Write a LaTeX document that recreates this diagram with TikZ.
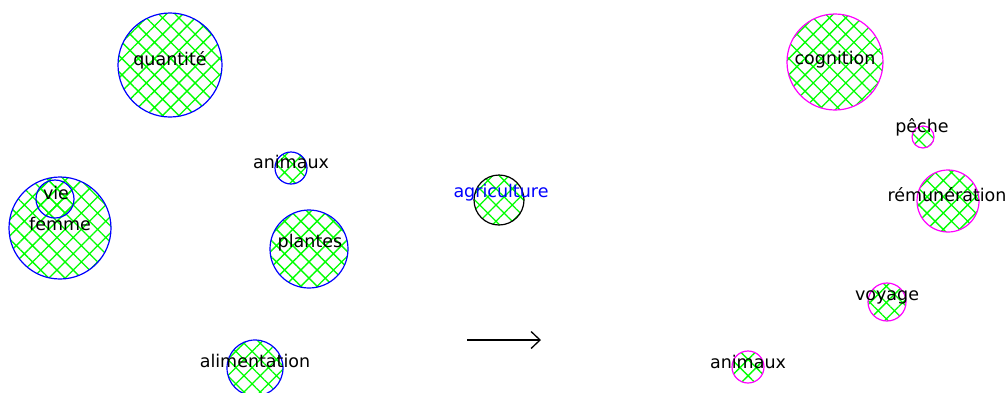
\documentclass[tikz,border=0pt]{standalone}
\usepackage{fontspec}
\setmainfont{DejaVu Sans}
\usetikzlibrary{patterns.meta,arrows.meta}
\definecolor{hgreen}{RGB}{0,255,0}
\definecolor{bblue}{RGB}{0,0,255}
\definecolor{mmag}{RGB}{255,0,255}
\tikzset{
  blob/.style={circle,inner sep=0pt,minimum size=#1,line width=1.2pt,
    pattern={Hatch[angle=45,distance=11.5pt,line width=1.3pt]},pattern color=hgreen},
  lblob/.style={blob=#1,draw=bblue},
  rblob/.style={blob=#1,draw=mmag},
  kblob/.style={blob=#1,draw=black},
  word/.style={inner sep=0pt,font=\fontsize{17.5}{19}\selectfont,text=black},
  bword/.style={word,text=bblue}
}
\begin{document}
\begin{tikzpicture}[x=1pt,y=-1pt]
\useasboundingbox (0,0) rectangle (1006,392);
\clip (0,0) rectangle (1006,392);
% left circles
\node[lblob=104pt] (cq) at (170,65) {};
\node[lblob=102pt] (cf) at (60,228) {};
\node[lblob=38pt]  (cv) at (55,199) {};
\node[lblob=32pt]  (ca) at (291,168) {};
\node[lblob=78pt]  (cp) at (309,249) {};
\node[lblob=56pt]  (cal) at (255,368) {};
% middle
\node[kblob=50pt]  (cag) at (499,200) {};
% right circles
\node[rblob=96pt]  (cc) at (835,62) {};
\node[rblob=22pt]  (cpe) at (923,137) {};
\node[rblob=62pt]  (cr) at (948,201) {};
\node[rblob=38pt]  (cvo) at (887,302) {};
\node[rblob=32pt]  (can) at (748,367) {};
% labels
\node[word] (tq) at (170,60) {quantité};
\node[word] (tv) at (56,193) {vie};
\node[word] (tf) at (60,224) {femme};
\node[word] (ta) at (291,162) {animaux};
\node[word] (tp) at (310,243) {plantes};
\node[word] (tal) at (255,361) {alimentation};
\node[bword] (tag) at (501,193) {agriculture};
\node[word] (tc) at (835,60) {cognition};
\node[word] (tpe) at (922,127) {pêche};
\node[word] (tr) at (947,195) {rémunération};
\node[word] (tvo) at (887,297) {voyage};
\node[word] (tan) at (748,362) {animaux};
% arrow
\coordinate (a1) at (467,340);
\coordinate (a2) at (541,340);
\draw[line width=1.3pt,-{Straight Barb[length=9pt,width=17pt,line width=1.3pt]}] (a1) -- (a2);
\end{tikzpicture}
\end{document}
